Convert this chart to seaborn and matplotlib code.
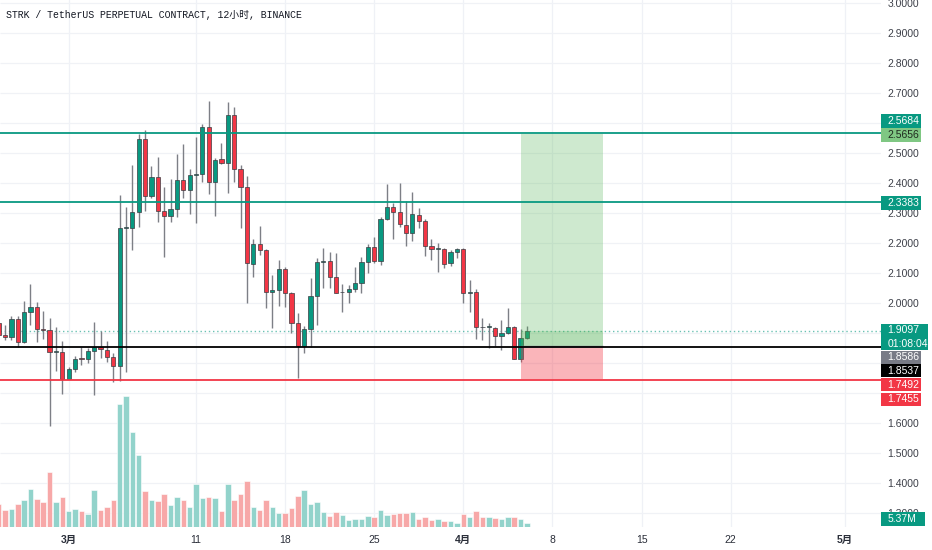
import numpy as np
import pandas as pd
import matplotlib
matplotlib.use("Agg")
import matplotlib.pyplot as plt
import matplotlib.dates as mdates
from matplotlib.patches import Rectangle
from matplotlib.transforms import blended_transform_factory
import seaborn as sns

# ---------------- data ----------------
title = "STRK / TetherUS PERPETUAL CONTRACT, 12小时, BINANCE"
first_bar = "2024-02-24 12:00"
open_ = [1.934, 1.895, 1.889, 1.948, 1.873, 1.971, 1.987, 1.914, 1.912, 1.839, 1.839,
         1.748, 1.781, 1.816, 1.816, 1.842, 1.856, 1.845, 1.823, 1.793, 2.251,
         2.253, 2.306, 2.547, 2.359, 2.422, 2.309, 2.293, 2.314, 2.411, 2.379,
         2.427, 2.433, 2.589, 2.404, 2.481, 2.469, 2.628, 2.447, 2.387, 2.132,
         2.197, 2.178, 2.039, 2.045, 2.114, 2.034, 1.934, 1.859, 1.914, 2.025,
         2.137, 2.142, 2.087, 2.037, 2.037, 2.047, 2.069, 2.139, 2.187, 2.143,
         2.281, 2.323, 2.306, 2.262, 2.236, 2.295, 2.276, 2.193, 2.182, 2.182,
         2.135, 2.171, 2.181, 2.034, 2.039, 1.921, 1.921, 1.919, 1.893, 1.901,
         1.921, 1.815, 1.884]
close = [1.895, 1.889, 1.948, 1.873, 1.971, 1.987, 1.914, 1.913, 1.839, 1.842, 1.748,
         1.782, 1.816, 1.815, 1.842, 1.856, 1.847, 1.823, 1.793, 2.251, 2.253,
         2.306, 2.547, 2.359, 2.422, 2.309, 2.293, 2.314, 2.411, 2.379, 2.427,
         2.433, 2.589, 2.404, 2.478, 2.469, 2.628, 2.447, 2.387, 2.134, 2.197,
         2.178, 2.039, 2.045, 2.114, 2.034, 1.934, 1.859, 1.914, 2.025, 2.137,
         2.142, 2.087, 2.034, 2.038, 2.048, 2.069, 2.139, 2.187, 2.143, 2.281,
         2.323, 2.306, 2.264, 2.236, 2.297, 2.276, 2.193, 2.182, 2.183, 2.132,
         2.171, 2.181, 2.034, 2.039, 1.923, 1.920, 1.922, 1.893, 1.901, 1.921,
         1.815, 1.884, 1.9097]
high = [1.952, 1.928, 1.959, 1.959, 2.009, 2.065, 2.004, 1.976, 1.953, 1.921, 1.875,
        1.789, 1.825, 1.854, 1.851, 1.937, 1.908, 1.875, 1.834, 2.362, 2.323,
        2.462, 2.564, 2.578, 2.459, 2.489, 2.387, 2.414, 2.497, 2.531, 2.448,
        2.556, 2.597, 2.675, 2.486, 2.534, 2.673, 2.656, 2.462, 2.425, 2.215,
        2.258, 2.182, 2.095, 2.145, 2.123, 2.039, 1.969, 1.926, 2.084, 2.153,
        2.184, 2.173, 2.169, 2.064, 2.062, 2.123, 2.156, 2.198, 2.223, 2.287,
        2.398, 2.334, 2.401, 2.343, 2.371, 2.317, 2.281, 2.214, 2.203, 2.184,
        2.178, 2.186, 2.186, 2.078, 2.048, 1.951, 1.934, 1.923, 1.945, 1.984,
        1.926, 1.915, 1.926]
low = [1.885, 1.878, 1.878, 1.856, 1.867, 1.928, 1.873, 1.882, 1.592, 1.775, 1.698,
       1.748, 1.773, 1.795, 1.801, 1.695, 1.817, 1.806, 1.739, 1.742, 1.773,
       2.178, 2.256, 2.308, 2.353, 2.271, 2.156, 2.271, 2.289, 2.351, 2.298,
       2.269, 2.404, 2.365, 2.292, 2.465, 2.367, 2.404, 2.251, 2.001, 2.089,
       2.162, 1.984, 1.917, 1.992, 1.989, 1.901, 1.751, 1.836, 1.856, 1.928,
       2.051, 2.051, 2.034, 1.973, 2.001, 2.039, 2.036, 2.101, 2.136, 2.128,
       2.278, 2.215, 2.256, 2.192, 2.209, 2.251, 2.159, 2.145, 2.106, 2.119,
       2.125, 2.151, 2.001, 1.973, 1.882, 1.878, 1.853, 1.859, 1.845, 1.898,
       1.815, 1.804, 1.882]
volume_m = [32.9, 24.7, 25.7, 32.9, 39.2, 55.5, 40.2, 36.3, 80.2, 36.3, 43.5,
            22.8, 25.7, 22.8, 18.4, 53.7, 24.7, 28.6, 38.7, 178.4, 190.0,
            137.8, 104.4, 51.8, 39.2, 37.3, 47.9, 31.5, 43.5, 39.6, 29.4,
            61.9, 41.6, 43.9, 42.1, 23.6, 62.8, 38.7, 47.4, 66.7, 28.6,
            24.7, 38.7, 28.6, 20.3, 20.3, 27.6, 45.4, 53.2, 33.8, 36.3,
            21.8, 16.0, 21.8, 17.0, 10.2, 11.2, 12.0, 16.0, 14.9, 24.7,
            17.0, 18.9, 20.7, 20.7, 21.8, 12.0, 14.9, 10.2, 11.2, 8.3,
            8.3, 6.2, 18.9, 14.9, 22.8, 14.9, 14.9, 13.1, 11.2, 14.9,
            14.1, 12.0, 5.37]

resist_lines = [2.5684, 2.3383]
black_line = 1.8537
red_line = 1.7455
pos_entry, pos_target, pos_stop = 1.8586, 2.5656, 1.7492
pos_start, pos_end = "2024-04-05 12:00", "2024-04-12 00:00"
last_price = 1.9097
countdown = "01:08:04"

x_tick_dates = ["2024-03-01", "2024-03-11", "2024-03-18", "2024-03-25", "2024-04-01",
                "2024-04-08", "2024-04-15", "2024-04-22", "2024-05-01"]
x_tick_labels = ["3月", "11", "18", "25", "4月", "8", "15", "22", "5月"]
y_ticks = [round(1.3 + 0.1 * i, 1) for i in range(18)]
hidden_y_labels = [1.7, 1.8, 1.9, 2.6]   # covered by price-scale labels

# ---------------- style ----------------
sns.set_theme(style="white")
plt.rcParams["font.family"] = ["Liberation Sans", "Noto Sans CJK SC"]

GREEN = "#089981"
RED = "#f23645"
VGREEN = "#92d3cb"
VRED = "#f7a8a8"
WICK = "#7d7f86"
TXT = "#3c3f48"

W, H = 932, 550
fig = plt.figure(figsize=(W / 100, H / 100), dpi=100)
ax_l, ax_b, ax_w, ax_h = 0, 23 / H, 881 / W, 527 / H
axv = fig.add_axes([ax_l, ax_b, ax_w, ax_h])
ax = fig.add_axes([ax_l, ax_b, ax_w, ax_h], sharex=axv)
ax.patch.set_visible(False)

df = pd.DataFrame({
    "time": pd.date_range(first_bar, periods=len(open_), freq="12h"),
    "open": open_, "high": high, "low": low, "close": close, "vol": volume_m,
})
df["t"] = mdates.date2num(df["time"])
df["dir"] = np.where(df["close"] >= df["open"], "up", "down")

ax.set_ylim(1.2549, 3.0116)

# grid (drawn in the lower axes so it stays behind the volume bars)
for d in x_tick_dates:
    axv.axvline(mdates.date2num(pd.Timestamp(d)), color="#eff1f6", lw=0.9, zorder=0)
axv.hlines(y_ticks, 0, 1, transform=blended_transform_factory(axv.transAxes, ax.transData),
           color="#f0f2f6", lw=0.9, zorder=0)

# volume (seaborn)
sns.barplot(data=df, x="t", y="vol", hue="dir", palette={"up": VGREEN, "down": VRED},
            native_scale=True, dodge=False, saturation=1, errorbar=None, legend=False,
            width=0.86, orient="x", edgecolor="white", linewidth=0.4, ax=axv, zorder=2)
axv.set_ylim(0, 764)
axv.set_xlabel("")
axv.set_ylabel("")
axv.set_yticks([])
axv.tick_params(axis="x", bottom=False, labelbottom=False)
for s in axv.spines.values():
    s.set_visible(False)
axv.grid(False)
ax.grid(False)

# candles
t = df["t"].values
o = df["open"].values
c = df["close"].values
up = c >= o
ax.vlines(t, df["low"], df["high"], color=WICK, lw=1.0, zorder=3)
body_h = np.maximum(np.abs(c - o), 0.0025)
ax.bar(t, body_h, bottom=np.minimum(o, c), width=0.33,
       color=np.where(up, GREEN, RED), edgecolor="#3a3c42", linewidth=0.5, zorder=4)

# last price dotted line
ax.axhline(last_price, color=GREEN, lw=1.0, ls=(0, (1, 2)), alpha=0.6, zorder=2)

# long position tool
ps, pe = mdates.date2num(pd.Timestamp(pos_start)), mdates.date2num(pd.Timestamp(pos_end))
ax.add_patch(Rectangle((ps, pos_entry), pe - ps, pos_target - pos_entry,
                       facecolor=(0.30, 0.69, 0.31, 0.27), edgecolor="none", zorder=5))
ax.add_patch(Rectangle((ps, pos_entry), pe - ps, last_price - pos_entry,
                       facecolor=(0.30, 0.69, 0.31, 0.20), edgecolor="none", zorder=5))
ax.add_patch(Rectangle((ps, pos_stop), pe - ps, pos_entry - pos_stop,
                       facecolor=(0.95, 0.21, 0.27, 0.37), edgecolor="none", zorder=5))
ax.hlines(pos_entry, ps, pe, color="#8a8c93", lw=1.0, zorder=5)

# horizontal lines
for r in resist_lines:
    ax.axhline(r, color=GREEN, lw=1.3, zorder=6)
ax.axhline(black_line, color="#000000", lw=1.3, zorder=6)
ax.axhline(red_line, color=RED, lw=1.3, zorder=6)

# axes limits / ticks
ax.set_xlim(mdates.date2num(pd.Timestamp("2024-02-24 14:30")),
            mdates.date2num(pd.Timestamp("2024-05-03 19:30")))
ax.set_ylim(1.2549, 3.0116)
ax.yaxis.tick_right()
ax.set_yticks(y_ticks)
ax.set_yticklabels(["" if v in hidden_y_labels else f"{v:.4f}" for v in y_ticks])
ax.tick_params(axis="y", length=0, pad=4.6, labelsize=7.5, labelcolor=TXT)
ax.set_xticks([mdates.date2num(pd.Timestamp(d)) for d in x_tick_dates])
ax.set_xticklabels(x_tick_labels)
ax.tick_params(axis="x", length=0, pad=5.5, labelsize=7.5, labelcolor="#2a2e39",
               bottom=True, labelbottom=True)
for lbl in ax.get_xticklabels():
    if "月" in lbl.get_text():
        lbl.set_fontweight("bold")
ax.set_xlabel("")
ax.set_ylabel("")
for s in ax.spines.values():
    s.set_visible(False)

# title
fig.text(6.5 / W, 1 - 15.5 / H, title, ha="left", va="center", fontsize=7.1,
         color="#131722", family=["Liberation Mono", "Noto Sans CJK SC"])

# price scale labels (boxes)
def price_label(text, ytop, ybot, fc, tc, width=40):
    fig.patches.append(Rectangle((881 / W, 1 - ybot / H), width / W, (ybot - ytop) / H,
                                 transform=fig.transFigure, facecolor=fc,
                                 edgecolor="none", zorder=20))
    fig.text(887.5 / W, 1 - (ytop + ybot) / 2 / H, text, ha="left", va="center",
             fontsize=7.5, color=tc, zorder=21, linespacing=1.45)

price_label(f"{resist_lines[0]:.4f}", 114, 127.5, GREEN, "white")
price_label(f"{pos_target:.4f}", 128.5, 141.5, "#7fc783", "#1f2a1f")
price_label(f"{resist_lines[1]:.4f}", 196, 209.5, GREEN, "white")
price_label(f"{last_price:.4f}\n{countdown}", 324, 350, GREEN, "white", width=47)
price_label(f"{pos_entry:.4f}", 350.5, 363.5, "#787b86", "white")
price_label(f"{black_line:.4f}", 364, 377, "#000000", "white")
price_label(f"{pos_stop:.4f}", 378.3, 391, RED, "white")
price_label(f"{red_line:.4f}", 392.5, 405.5, RED, "white")
price_label(f"{volume_m[-1]:.2f}M", 512, 526, GREEN, "white", width=44)

fig.savefig("out.png", dpi=100)
